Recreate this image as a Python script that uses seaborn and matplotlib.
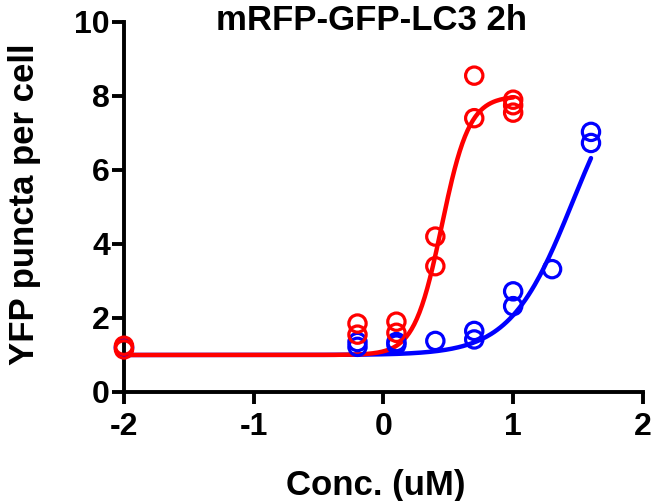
import numpy as np
import pandas as pd
import matplotlib
matplotlib.use('Agg')
import matplotlib.pyplot as plt
import seaborn as sns

sns.set_style('ticks', {'axes.edgecolor': 'black', 'text.color': 'black',
                        'xtick.color': 'black', 'ytick.color': 'black',
                        'axes.labelcolor': 'black'})
plt.rcParams['font.family'] = ['Liberation Sans', 'DejaVu Sans']
plt.rcParams['font.weight'] = 'bold'
plt.rcParams['axes.unicode_minus'] = False  # 用普通连字符

# 数据 (log10 浓度)
red_x = [-2, -2, -0.2, -0.2, 0.1, 0.1, 0.4, 0.4, 0.7, 0.7, 1.0, 1.0, 1.0]
red_y = [1.25, 1.15, 1.85, 1.55, 1.9, 1.6, 4.2, 3.4, 8.55, 7.4, 7.9, 7.75, 7.55]
blue_x = [-2, -2, -0.2, -0.2, 0.1, 0.1, 0.4, 0.7, 0.7, 1.0, 1.0, 1.3, 1.6, 1.6]
blue_y = [1.2, 1.2, 1.35, 1.22, 1.35, 1.28, 1.38, 1.65, 1.42, 2.72, 2.32, 3.32, 7.03, 6.73]

# 四参数拟合结果 (bottom, top, logEC50, hill)
red_fit = (1.0, 8.0, 0.45, 4.1)
blue_fit = (1.0, 9.3, 1.46, 1.8)


def logistic(x, p):
    bottom, top, ec50, hill = p
    return bottom + (top - bottom) / (1 + 10 ** ((ec50 - x) * hill))


fig = plt.figure(figsize=(6.56, 5.01), dpi=100)
ax = fig.add_axes([0.189, 0.2176, 0.791, 0.7385])

for xs, ys, p, col in [(blue_x, blue_y, blue_fit, '#0000FF'),
                       (red_x, red_y, red_fit, '#FF0000')]:
    xx = np.linspace(-2, max(xs), 300)
    curve = pd.DataFrame({'x': xx, 'y': logistic(xx, p)})
    sns.lineplot(data=curve, x='x', y='y', color=col, linewidth=3.2, ax=ax,
                 clip_on=False, zorder=2)
    sns.scatterplot(x=xs, y=ys, ax=ax, marker='o', s=155, facecolors='none',
                    edgecolor=col, linewidth=2.3, clip_on=False, zorder=3)

ax.set_xlim(-2, 2)
ax.set_ylim(0, 10)
ax.set_xticks([-2, -1, 0, 1, 2])
ax.set_yticks([0, 2, 4, 6, 8, 10])
ax.set_xlabel('')
ax.set_ylabel('')
sns.despine(ax=ax)
for s in ['left', 'bottom']:
    ax.spines[s].set_linewidth(2.8)
    ax.spines[s].set_color('black')
ax.tick_params(axis='both', width=2.8, length=8.5, labelsize=23, direction='out',
               color='black', labelcolor='black')
ax.tick_params(axis='x', pad=6)
ax.tick_params(axis='y', pad=1.5)
for lab in ax.get_xticklabels() + ax.get_yticklabels():
    lab.set_fontweight('bold')

fig.text(371 / 656, 1 - 30 / 501, 'mRFP-GFP-LC3 2h', ha='center', va='baseline',
         fontsize=25, fontweight='bold', color='black')
fig.text(25 / 656, 1 - 204 / 501, 'YFP puncta per cell', ha='center', va='center',
         rotation=90, fontsize=25, fontweight='bold', color='black')
fig.text(376 / 656, 1 - 495 / 501, 'Conc. (uM)', ha='center', va='baseline',
         fontsize=25, fontweight='bold', color='black')

plt.savefig('out.png', dpi=100)
